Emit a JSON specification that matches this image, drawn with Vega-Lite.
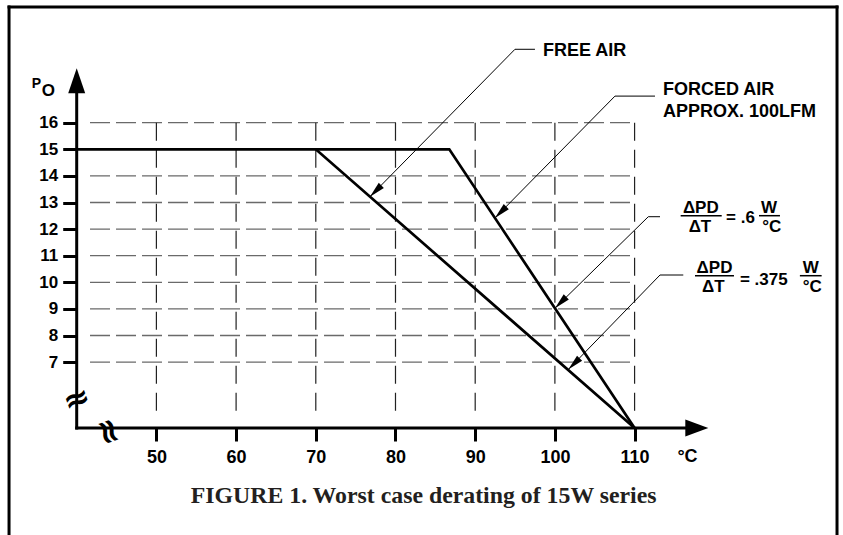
{
  "$schema": "https://vega.github.io/schema/vega-lite/v6.json",
  "width": 843,
  "height": 535,
  "autosize": "none",
  "padding": 0,
  "background": "white",
  "config": {"view": {"stroke": null}},
  "datasets": {
    "frame": [
      {"t": 31.51, "t2": 31.51, "p": 0.3, "p2": 20.35},
      {"t": 31.51, "t2": 135.4, "p": 20.35, "p2": 20.35},
      {"t": 135.4, "t2": 135.4, "p": 20.35, "p2": 0.3}
    ],
    "hgrid": [
      {"t": 41.67, "t2": 110, "p": 7, "p2": 7},
      {"t": 41.67, "t2": 110, "p": 8, "p2": 8},
      {"t": 41.67, "t2": 110, "p": 9, "p2": 9},
      {"t": 41.67, "t2": 110, "p": 10, "p2": 10},
      {"t": 41.67, "t2": 110, "p": 11, "p2": 11},
      {"t": 41.67, "t2": 110, "p": 12, "p2": 12},
      {"t": 41.67, "t2": 110, "p": 13, "p2": 13},
      {"t": 41.67, "t2": 110, "p": 14, "p2": 14},
      {"t": 41.67, "t2": 110, "p": 16, "p2": 16}
    ],
    "vgrid": [
      {"t": 50, "t2": 50, "p": 16, "p2": 5.01},
      {"t": 60, "t2": 60, "p": 16, "p2": 5.01},
      {"t": 70, "t2": 70, "p": 16, "p2": 5.01},
      {"t": 80, "t2": 80, "p": 16, "p2": 5.01},
      {"t": 90, "t2": 90, "p": 16, "p2": 5.01},
      {"t": 100, "t2": 100, "p": 16, "p2": 5.01},
      {"t": 110, "t2": 110, "p": 16, "p2": 5.01}
    ],
    "axislines": [
      {"t": 40, "t2": 117, "p": 4.52, "p2": 4.52},
      {"t": 40, "t2": 40, "p": 4.52, "p2": 17.5}
    ],
    "curves": [
      {"curve": "FREE AIR", "i": 0, "t": 40, "p": 15},
      {"curve": "FREE AIR", "i": 1, "t": 70, "p": 15},
      {"curve": "FREE AIR", "i": 2, "t": 110, "p": 4.52},
      {"curve": "FORCED AIR", "i": 0, "t": 70, "p": 15},
      {"curve": "FORCED AIR", "i": 1, "t": 86.75, "p": 15},
      {"curve": "FORCED AIR", "i": 2, "t": 110, "p": 4.52}
    ],
    "leaders": [
      {"id": "free", "i": 0, "t": 97.5, "p": 18.76},
      {"id": "free", "i": 1, "t": 94.99, "p": 18.76},
      {"id": "free", "i": 2, "t": 76.8, "p": 13.22},
      {"id": "forced", "i": 0, "t": 112.56, "p": 17.0},
      {"id": "forced", "i": 1, "t": 107.54, "p": 17.0},
      {"id": "forced", "i": 2, "t": 92.48, "p": 12.42},
      {"id": "s06", "i": 0, "t": 113.19, "p": 12.466},
      {"id": "s06", "i": 1, "t": 111.72, "p": 12.466},
      {"id": "s06", "i": 2, "t": 100.01, "p": 9.027},
      {"id": "s0375", "i": 0, "t": 116.11, "p": 10.274},
      {"id": "s0375", "i": 1, "t": 113.19, "p": 10.274},
      {"id": "s0375", "i": 2, "t": 101.68, "p": 6.72}
    ],
    "tips": [
      {"t": 76.8, "p": 13.22},
      {"t": 92.48, "p": 12.42},
      {"t": 100.01, "p": 9.027},
      {"t": 101.68, "p": 6.72}
    ],
    "yarrow": [{"t": 40, "p": 18.045}],
    "xarrow": [{"t": 119.25, "p": 4.52}],
    "fraclines": [
      {"t": 115.78, "t2": 120.93, "p": 12.504, "p2": 12.504},
      {"t": 125.61, "t2": 128.24, "p": 12.504, "p2": 12.504},
      {"t": 117.58, "t2": 122.47, "p": 10.248, "p2": 10.248},
      {"t": 130.74, "t2": 133.47, "p": 10.248, "p2": 10.248}
    ],
    "labels": [
      {"label": "FREE AIR", "t": 98.51, "p": 18.51},
      {"label": "FORCED AIR", "t": 113.56, "p": 17.04},
      {"label": "APPROX. 100LFM", "t": 113.56, "p": 16.21}
    ],
    "eqcenter": [
      {"label": "ΔPD", "t": 118.31, "p": 12.605},
      {"label": "ΔT", "t": 118.2, "p": 11.89},
      {"label": "W", "t": 126.88, "p": 12.605},
      {"label": "°C", "t": 127.2, "p": 11.89},
      {"label": "ΔPD", "t": 120.03, "p": 10.338},
      {"label": "ΔT", "t": 119.88, "p": 9.647},
      {"label": "W", "t": 132.11, "p": 10.338},
      {"label": "°C", "t": 132.29, "p": 9.647}
    ],
    "eqleft": [
      {"label": "= .6", "t": 121.47, "p": 12.218},
      {"label": "= .375", "t": 123.22, "p": 9.898}
    ],
    "ptext": [{"label": "P", "t": 34.35, "p": 17.29}],
    "osub": [{"label": "O", "t": 35.61, "p": 17.0}],
    "unit": [{"label": "°C", "t": 116.64, "p": 3.256}],
    "ybreak": [{"label": "≈", "t": 40, "p": 5.6}],
    "xbreak": [{"label": "≈", "t": 43.9, "p": 4.37}],
    "title": [{"label": "FIGURE 1. Worst case derating of 15W series", "t": 83.53, "p": 1.69}]
  },
  "encoding": {
    "x": {
      "field": "t", "type": "quantitative",
      "scale": {"domain": [30.376, 136.15], "zero": false, "nice": false},
      "axis": {
        "values": [50, 60, 70, 80, 90, 100, 110],
        "offset": -107, "domain": false, "grid": false, "title": null,
        "tickSize": 13, "tickWidth": 3, "tickColor": "black",
        "labelFont": "Liberation Sans", "labelFontWeight": "bold", "labelFontSize": 18,
        "labelColor": "black", "labelPadding": 7
      }
    },
    "y": {
      "field": "p", "type": "quantitative",
      "scale": {"domain": [0.5, 20.613], "zero": false, "nice": false},
      "axis": {
        "values": [7, 8, 9, 10, 11, 12, 13, 14, 15, 16],
        "offset": -76.7, "domain": false, "grid": false, "title": null,
        "tickSize": 14, "tickWidth": 3, "tickColor": "black",
        "labelFont": "Liberation Sans", "labelFontWeight": "bold", "labelFontSize": 17,
        "labelColor": "black", "labelPadding": 5
      }
    }
  },
  "layer": [
    {
      "data": {"name": "frame"},
      "mark": {"type": "rule", "color": "black", "strokeWidth": 3, "strokeCap": "square"},
      "encoding": {"x2": {"field": "t2"}, "y2": {"field": "p2"}}
    },
    {
      "data": {"name": "hgrid"},
      "mark": {"type": "rule", "color": "#6a6a6a", "strokeWidth": 1.3, "strokeDash": [20, 6]},
      "encoding": {"x2": {"field": "t2"}, "y2": {"field": "p2"}}
    },
    {
      "data": {"name": "vgrid"},
      "mark": {"type": "rule", "color": "#222222", "strokeWidth": 1.2, "strokeDash": [18, 9]},
      "encoding": {"x2": {"field": "t2"}, "y2": {"field": "p2"}}
    },
    {
      "data": {"name": "axislines"},
      "mark": {"type": "rule", "color": "black", "strokeWidth": 3, "strokeCap": "square"},
      "encoding": {"x2": {"field": "t2"}, "y2": {"field": "p2"}}
    },
    {
      "data": {"name": "curves"},
      "mark": {"type": "line", "color": "black", "strokeWidth": 2.7},
      "encoding": {"detail": {"field": "curve"}, "order": {"field": "i"}}
    },
    {
      "data": {"name": "leaders"},
      "mark": {"type": "line", "color": "black", "strokeWidth": 1},
      "encoding": {"detail": {"field": "id"}, "order": {"field": "i"}}
    },
    {
      "data": {"name": "tips"},
      "mark": {"type": "point", "shape": "M0,0L-2,-0.45L-2,0.45Z", "size": 256, "angle": 135, "filled": true, "color": "black", "opacity": 1, "strokeWidth": 0}
    },
    {
      "data": {"name": "yarrow"},
      "mark": {"type": "point", "shape": "M0,0L-2,-0.68L-2,0.68Z", "size": 625, "angle": -90, "filled": true, "color": "black", "opacity": 1, "strokeWidth": 0}
    },
    {
      "data": {"name": "xarrow"},
      "mark": {"type": "point", "shape": "M0,0L-2,-0.74L-2,0.74Z", "size": 529, "angle": 0, "filled": true, "color": "black", "opacity": 1, "strokeWidth": 0}
    },
    {
      "data": {"name": "fraclines"},
      "mark": {"type": "rule", "color": "black", "strokeWidth": 1.5},
      "encoding": {"x2": {"field": "t2"}, "y2": {"field": "p2"}}
    },
    {
      "data": {"name": "labels"},
      "mark": {"type": "text", "align": "left", "baseline": "alphabetic", "font": "Liberation Sans", "fontWeight": "bold", "fontSize": 18, "color": "black"},
      "encoding": {"text": {"field": "label"}}
    },
    {
      "data": {"name": "eqcenter"},
      "mark": {"type": "text", "align": "center", "baseline": "alphabetic", "font": "Liberation Sans", "fontWeight": "bold", "fontSize": 17, "color": "black"},
      "encoding": {"text": {"field": "label"}}
    },
    {
      "data": {"name": "eqleft"},
      "mark": {"type": "text", "align": "left", "baseline": "alphabetic", "font": "Liberation Sans", "fontWeight": "bold", "fontSize": 17, "color": "black"},
      "encoding": {"text": {"field": "label"}}
    },
    {
      "data": {"name": "ptext"},
      "mark": {"type": "text", "align": "left", "baseline": "alphabetic", "font": "Liberation Sans", "fontWeight": "bold", "fontSize": 14, "color": "black"},
      "encoding": {"text": {"field": "label"}}
    },
    {
      "data": {"name": "osub"},
      "mark": {"type": "text", "align": "left", "baseline": "alphabetic", "font": "Liberation Sans", "fontWeight": "bold", "fontSize": 17, "color": "black"},
      "encoding": {"text": {"field": "label"}}
    },
    {
      "data": {"name": "unit"},
      "mark": {"type": "text", "align": "center", "baseline": "alphabetic", "font": "Liberation Sans", "fontWeight": "bold", "fontSize": 18, "color": "black"},
      "encoding": {"text": {"field": "label"}}
    },
    {
      "data": {"name": "ybreak"},
      "mark": {"type": "text", "align": "center", "baseline": "middle", "font": "DejaVu Sans", "fontWeight": "bold", "fontSize": 32, "angle": -20, "color": "black"},
      "encoding": {"text": {"field": "label"}}
    },
    {
      "data": {"name": "xbreak"},
      "mark": {"type": "text", "align": "center", "baseline": "middle", "font": "DejaVu Sans", "fontWeight": "bold", "fontSize": 34, "angle": 70, "color": "black"},
      "encoding": {"text": {"field": "label"}}
    },
    {
      "data": {"name": "title"},
      "mark": {"type": "text", "align": "center", "baseline": "alphabetic", "font": "Liberation Serif", "fontWeight": "bold", "fontSize": 23.8, "color": "#231f20"},
      "encoding": {"text": {"field": "label"}}
    }
  ]
}
